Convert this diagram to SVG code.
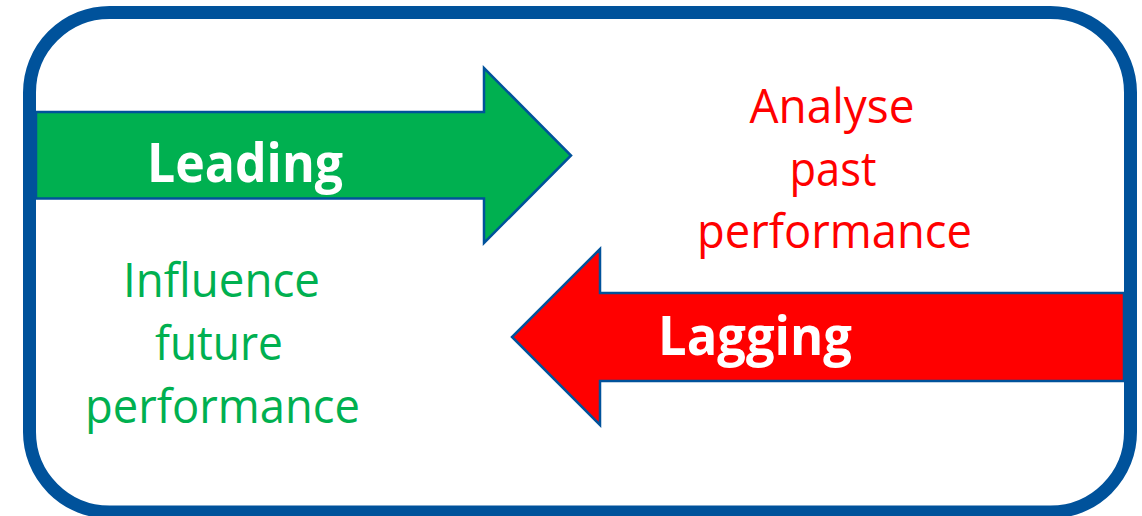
<svg xmlns="http://www.w3.org/2000/svg" width="1142" height="516" viewBox="0 0 1142 516">
  <style>
    .arrow { stroke: #00529B; stroke-width: 2.5; stroke-linejoin: miter; }
    .label { font-family: "Open Sans", "Liberation Sans", sans-serif; font-weight: bold; font-size: 54px; fill: #FFFFFF; text-anchor: middle; }
    .note { font-family: "Open Sans", "Liberation Sans", sans-serif; font-size: 47px; text-anchor: middle; }
    .green { fill: #00B050; }
    .red { fill: #FF0000; }
  </style>
  <rect width="1142" height="516" fill="#FFFFFF"/>
  <g id="connectors">
    <g id="leading-arrow">
      <polygon class="arrow" fill="#00B050" points="36,112 484,112 484,68 571,155.5 484,243 484,198.5 36,198.5"/>
      <text class="label" x="245" y="182" textLength="196" lengthAdjust="spacingAndGlyphs">Leading</text>
    </g>
    <g id="lagging-arrow">
      <polygon class="arrow" fill="#FF0000" points="1124,293 600,293 600,249 512,337 600,425 600,381 1124,381"/>
      <text class="label" x="755" y="355" textLength="194" lengthAdjust="spacingAndGlyphs">Lagging</text>
    </g>
  </g>
  <g id="frame">
    <rect x="29.5" y="12.5" width="1101" height="499.5" rx="80" ry="80" fill="none" stroke="#00529B" stroke-width="13"/>
  </g>
  <g id="past-note">
    <text class="note red" x="832" y="123" textLength="165" lengthAdjust="spacingAndGlyphs">Analyse</text>
    <text class="note red" x="833" y="186" textLength="87" lengthAdjust="spacingAndGlyphs">past</text>
    <text class="note red" x="834.5" y="248" textLength="275" lengthAdjust="spacingAndGlyphs">performance</text>
  </g>
  <g id="future-note">
    <text class="note green" x="221.5" y="297" textLength="197" lengthAdjust="spacingAndGlyphs">Influence</text>
    <text class="note green" x="219" y="360" textLength="128" lengthAdjust="spacingAndGlyphs">future</text>
    <text class="note green" x="222.5" y="423" textLength="275" lengthAdjust="spacingAndGlyphs">performance</text>
  </g>
</svg>
